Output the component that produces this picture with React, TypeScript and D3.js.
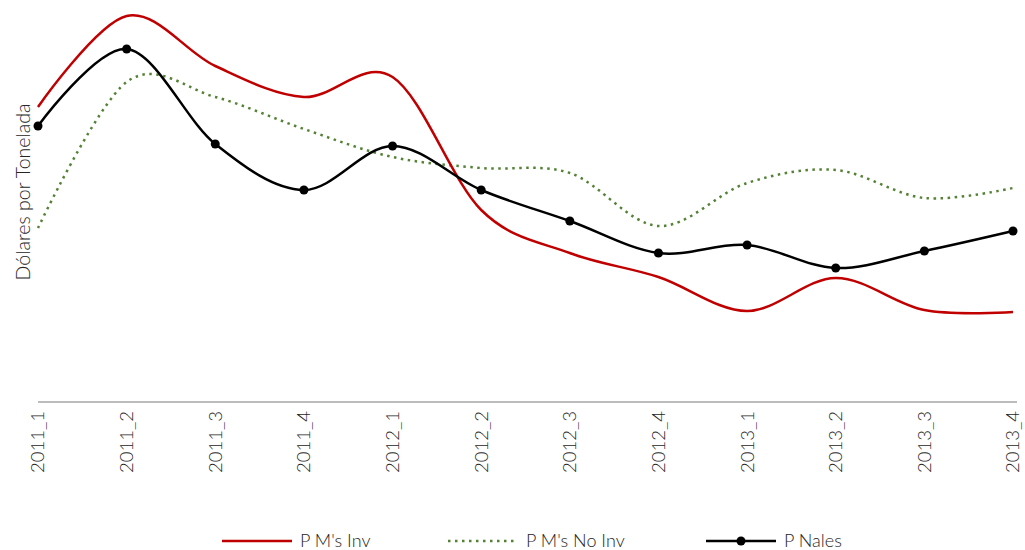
import React, { useEffect, useRef } from 'react';
import * as d3 from 'd3';

const categories = ['2011_1', '2011_2', '2011_3', '2011_4', '2012_1', '2012_2', '2012_3', '2012_4', '2013_1', '2013_2', '2013_3', '2013_4'];
// values (arbitrary dollar units, no y ticks shown)
const pmInv = [295, 386, 336, 305, 325, 192, 149, 125, 91, 124, 92, 90];
const pmNoInv = [174, 320, 305, 273, 245, 234, 229, 176, 219, 232, 204, 214];
const pNales = [276, 353, 258, 212, 256, 212, 181, 149, 157, 134, 151, 171];

const seriesNames = ["P M's Inv", "P M's No Inv", 'P Nales'];

const W = 1025;
const H = 550;
const font = "Lato, 'Open Sans', sans-serif";
const textColor = '#262626';

export default function App() {
	const ref = useRef<SVGSVGElement>(null);

	useEffect(() => {
		const svg = d3.select(ref.current);
		svg.selectAll('*').remove();

		const x = d3.scalePoint().domain(categories).range([38, 1013]);
		const y = d3.scaleLinear().domain([0, 400]).range([402, 2]);

		// x axis line
		svg.append('line')
			.attr('x1', 38).attr('x2', 1017)
			.attr('y1', y(0)).attr('y2', y(0))
			.attr('stroke', '#a6a6a6')
			.attr('stroke-width', 1.3);

		// category labels, rotated
		svg.append('g')
			.selectAll('text')
			.data(categories)
			.enter()
			.append('text')
			.attr('transform', d => 'translate(' + x(d) + ',' + (y(0) + 9) + ') rotate(-90)')
			.attr('dy', '0.35em')
			.attr('text-anchor', 'end')
			.attr('font-family', font)
			.attr('font-weight', 300)
			.attr('font-size', 18.5)
			.attr('fill', textColor)
			.text(d => d);

		// y title
		svg.append('text')
			.attr('transform', 'translate(30,192) rotate(-90)')
			.attr('text-anchor', 'middle')
			.attr('font-family', font)
			.attr('font-weight', 300)
			.attr('font-size', 19.5)
			.attr('fill', textColor)
			.text('Dólares por Tonelada');

		const line = d3.line<number>()
			.x((d, i) => x(categories[i]) as number)
			.y(d => y(d))
			.curve(d3.curveCatmullRom.alpha(0));

		svg.append('path')
			.datum(pmNoInv)
			.attr('d', line)
			.attr('fill', 'none')
			.attr('stroke', '#548235')
			.attr('stroke-width', 2.5)
			.attr('stroke-dasharray', '2.5,4.5');

		svg.append('path')
			.datum(pmInv)
			.attr('d', line)
			.attr('fill', 'none')
			.attr('stroke', '#c00000')
			.attr('stroke-width', 2.5);

		svg.append('path')
			.datum(pNales)
			.attr('d', line)
			.attr('fill', 'none')
			.attr('stroke', '#000')
			.attr('stroke-width', 2.5);

		svg.append('g')
			.selectAll('circle')
			.data(pNales)
			.enter()
			.append('circle')
			.attr('cx', (d, i) => x(categories[i]) as number)
			.attr('cy', d => y(d))
			.attr('r', 4.5)
			.attr('fill', '#000');

		// legend
		const legendX = [222, 448, 706];
		const colors = ['#c00000', '#548235', '#000'];
		const lg = svg.append('g');
		seriesNames.forEach((name, i) => {
			const g = lg.append('g').attr('transform', 'translate(' + legendX[i] + ',541)');
			g.append('line')
				.attr('x1', 0).attr('x2', 70)
				.attr('stroke', colors[i])
				.attr('stroke-width', 2.5)
				.attr('stroke-dasharray', i === 1 ? '2.5,4.5' : null);
			if (i === 2) {
				g.append('circle').attr('cx', 35).attr('r', 4.5).attr('fill', '#000');
			}
			g.append('text')
				.attr('x', 78)
				.attr('dy', '0.35em')
				.attr('font-family', font)
				.attr('font-weight', 300)
				.attr('font-size', 18)
				.attr('fill', textColor)
				.text(name);
		});
	}, []);

	return (
		<svg ref={ref} width={W} height={H} style={{ position: 'absolute', left: 0, top: 0, background: '#fff' }} />
	);
}
